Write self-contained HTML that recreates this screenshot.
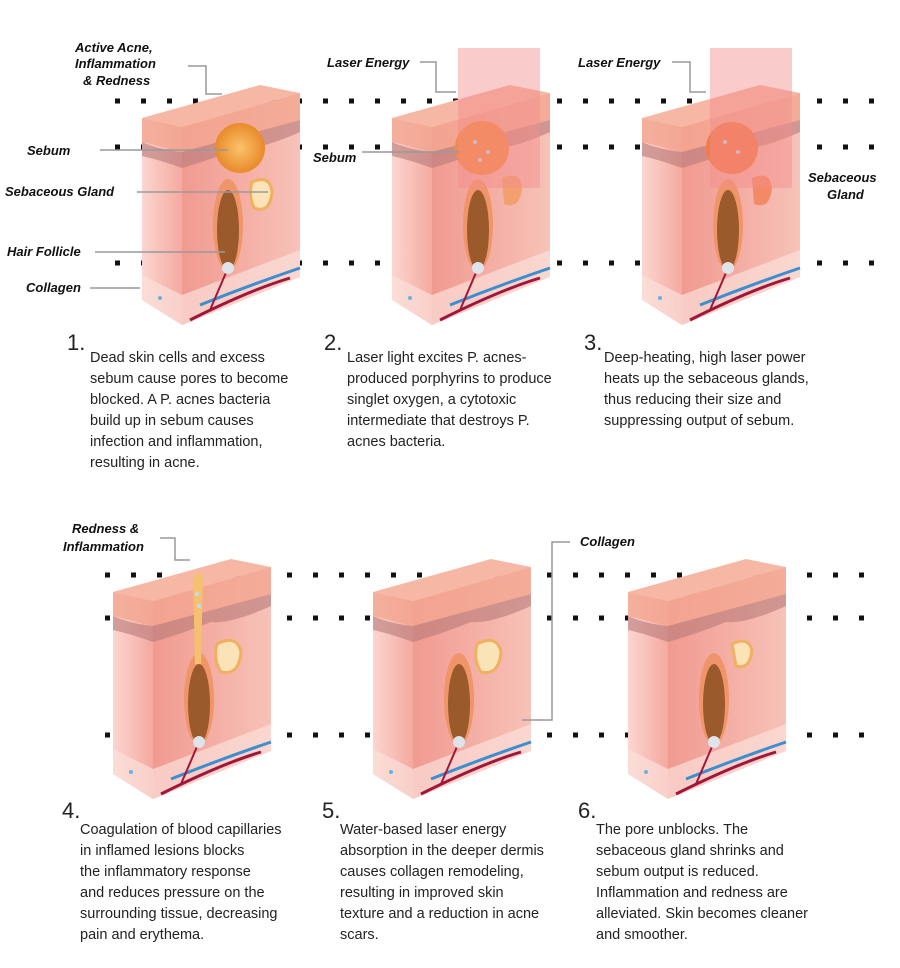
<!DOCTYPE html>
<html><head><meta charset="utf-8"><style>
body{margin:0;background:#fff;width:900px;height:968px;overflow:hidden;font-family:"Liberation Sans",sans-serif}
.t{position:absolute;font-size:14.5px;line-height:21px;color:#222;white-space:nowrap}
.n{position:absolute;font-size:22px;color:#222}
</style></head><body>
<svg width="900" height="968" style="position:absolute;left:0;top:0" font-family="Liberation Sans, sans-serif">
<defs>
<linearGradient id="fr" x1="0" x2="1"><stop offset="0" stop-color="#fbd6cf"/><stop offset="1" stop-color="#f4a9a0"/></linearGradient>
<linearGradient id="rt" x1="0" x2="1"><stop offset="0" stop-color="#f19a90"/><stop offset="1" stop-color="#f7c2b8"/></linearGradient>
<radialGradient id="sb"><stop offset="0" stop-color="#fbc26a"/><stop offset="1" stop-color="#e88a2a"/></radialGradient>
<g id="blk">
<polygon points="2,28 42,37 42,235 2,210" fill="url(#fr)"/>
<polygon points="42,37 160,3 160,187 42,235" fill="url(#rt)"/>
<polygon points="2,28 42,37 160,3 120,-5" fill="#f6b7a4"/>
<polygon points="2,28 42,37 160,3 160,30 42,62 2,52" fill="#f2a690" opacity="0.8"/>
<path d="M2,52 Q20,60 42,62 L160,30 L160,42 Q120,60 100,58 Q70,70 42,78 Q20,70 2,66Z" fill="#b77a78" opacity="0.6"/>
<path d="M2,185 L42,205 L160,160 L160,187 L42,235 L2,210Z" fill="#fbe0da" opacity="0.7"/>
<path d="M50,230 Q110,200 150,188" stroke="#a0173a" stroke-width="3" fill="none"/>
<path d="M60,215 Q110,195 160,178" stroke="#3d8ecf" stroke-width="3" fill="none"/>
<path d="M88,178 L70,220" stroke="#a0173a" stroke-width="2"/>
<circle cx="20" cy="208" r="2" fill="#6ab0e0"/>
</g>
<g id="fol">
<ellipse cx="88" cy="135" rx="15" ry="46" fill="#f0956a"/>
<ellipse cx="88" cy="140" rx="11" ry="40" fill="#9a5a2c"/>
<circle cx="88" cy="178" r="6" fill="#dfe4ea"/>
</g>
</defs>
<g fill="none" stroke="#111" stroke-width="5" stroke-dasharray="5 21">
<line x1="115" y1="101" x2="880" y2="101"/><line x1="115" y1="147" x2="880" y2="147"/><line x1="115" y1="263" x2="880" y2="263"/>
<line x1="105" y1="575" x2="880" y2="575"/><line x1="105" y1="618" x2="880" y2="618"/><line x1="105" y1="735" x2="880" y2="735"/>
</g>
<g transform="translate(140,90)"><use href="#blk"/><use href="#fol"/>
<circle cx="100" cy="58" r="25" fill="url(#sb)"/><path d="M112,92 q18,-8 20,10 q-2,22 -18,16 q-6,-14 -2,-26z" fill="#fbe3b8" stroke="#f0b060" stroke-width="3"/></g>
<g transform="translate(390,90)"><use href="#blk"/><use href="#fol"/>
<circle cx="92" cy="58" r="27" fill="#f08a48"/><circle cx="85" cy="52" r="2" fill="#bde"/><circle cx="98" cy="62" r="2" fill="#bde"/><circle cx="90" cy="70" r="2" fill="#bde"/>
<path d="M112,88 q18,-8 20,10 q-2,22 -18,16z" fill="#f3a070"/></g>
<g transform="translate(640,90)"><use href="#blk"/><use href="#fol"/>
<circle cx="92" cy="58" r="26" fill="#f07c4c"/><circle cx="85" cy="52" r="2" fill="#bde"/><circle cx="98" cy="62" r="2" fill="#bde"/>
<path d="M112,88 q18,-8 20,10 q-2,22 -18,16z" fill="#f28a66"/></g>
<rect x="458" y="48" width="82" height="140" fill="#f58c8c" opacity="0.45"/>
<rect x="710" y="48" width="82" height="140" fill="#f58c8c" opacity="0.45"/>
<g transform="translate(111,564)"><use href="#blk"/><use href="#fol"/>
<path d="M82,10 L92,10 L90,100 L84,100Z" fill="#f5c070"/><circle cx="86" cy="30" r="2" fill="#bde"/><circle cx="88" cy="42" r="2" fill="#bde"/>
<path d="M106,80 q20,-10 24,8 q-2,24 -20,20 q-8,-12 -4,-28z" fill="#fbe3b8" stroke="#f0b060" stroke-width="3"/></g>
<g transform="translate(371,564)"><use href="#blk"/><use href="#fol"/>
<path d="M106,80 q20,-10 24,8 q-2,24 -20,20 q-8,-12 -4,-28z" fill="#fbe3b8" stroke="#f0b060" stroke-width="3"/></g>
<g transform="translate(626,564)"><use href="#blk"/><use href="#fol"/>
<path d="M106,80 q16,-8 20,6 q-2,20 -16,16z" fill="#fbe3b8" stroke="#f0b060" stroke-width="3"/></g>
<g stroke="#999" stroke-width="1.5" fill="none">
<polyline points="188,66 206,66 206,94 222,94"/>
<line x1="100" y1="150" x2="228" y2="150"/>
<line x1="137" y1="192" x2="268" y2="192"/>
<line x1="95" y1="252" x2="225" y2="252"/>
<polyline points="90,288 140,288"/>
<polyline points="420,62 436,62 436,92 456,92"/>
<line x1="362" y1="152" x2="460" y2="152"/>
<polyline points="672,62 690,62 690,92 706,92"/>
<polyline points="160,538 175,538 175,560 190,560"/>
<polyline points="570,542 552,542 552,720 522,720"/>
</g>
<g font-size="13" font-weight="bold" font-style="italic" fill="#111">
<text x="75" y="52">Active Acne,</text><text x="75" y="68">Inflammation</text><text x="83" y="85">&amp; Redness</text>
<text x="27" y="155">Sebum</text>
<text x="5" y="196">Sebaceous Gland</text>
<text x="7" y="256">Hair Follicle</text>
<text x="26" y="292">Collagen</text>
<text x="327" y="67">Laser Energy</text>
<text x="313" y="162">Sebum</text>
<text x="578" y="67">Laser Energy</text>
<text x="808" y="182">Sebaceous</text><text x="827" y="199">Gland</text>
<text x="72" y="533">Redness &amp;</text><text x="63" y="551">Inflammation</text>
<text x="580" y="546">Collagen</text>
</g>
</svg>
<div class="n" style="left:67px;top:330px">1.</div>
<div class="t" style="left:90px;top:348px">Dead skin cells and excess<br>sebum cause pores to become<br>blocked. A P. acnes bacteria<br>build up in sebum causes<br>infection and inflammation,<br>resulting in acne.</div>
<div class="n" style="left:324px;top:330px">2.</div>
<div class="t" style="left:347px;top:348px">Laser light excites P. acnes-<br>produced porphyrins to produce<br>singlet oxygen, a cytotoxic<br>intermediate that destroys P.<br>acnes bacteria.</div>
<div class="n" style="left:584px;top:330px">3.</div>
<div class="t" style="left:604px;top:348px">Deep-heating, high laser power<br>heats up the sebaceous glands,<br>thus reducing their size and<br>suppressing output of sebum.</div>
<div class="n" style="left:62px;top:798px">4.</div>
<div class="t" style="left:80px;top:820px">Coagulation of blood capillaries<br>in inflamed lesions blocks<br>the inflammatory response<br>and reduces pressure on the<br>surrounding tissue, decreasing<br>pain and erythema.</div>
<div class="n" style="left:322px;top:798px">5.</div>
<div class="t" style="left:340px;top:820px">Water-based laser energy<br>absorption in the deeper dermis<br>causes collagen remodeling,<br>resulting in improved skin<br>texture and a reduction in acne<br>scars.</div>
<div class="n" style="left:578px;top:798px">6.</div>
<div class="t" style="left:596px;top:820px">The pore unblocks. The<br>sebaceous gland shrinks and<br>sebum output is reduced.<br>Inflammation and redness are<br>alleviated. Skin becomes cleaner<br>and smoother.</div>
</body></html>
